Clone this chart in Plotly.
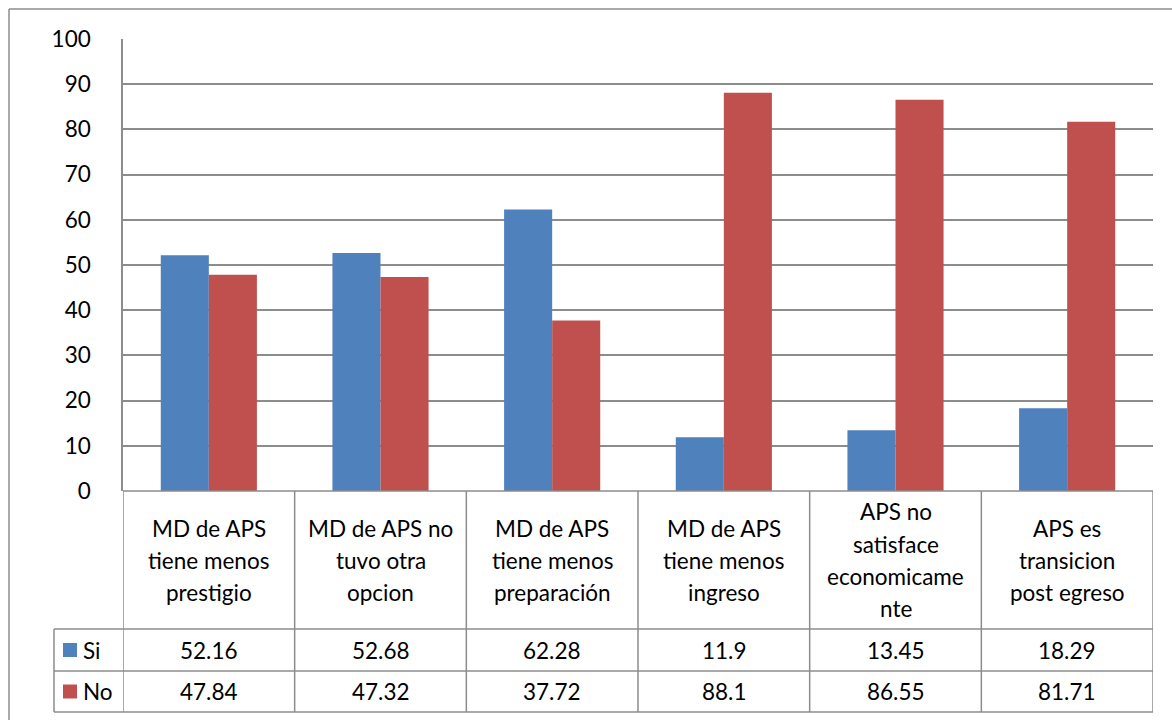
import plotly.graph_objects as go

# Chart data
categories = [
    "MD de APS<br>tiene menos<br>prestigio",
    "MD de APS no<br>tuvo otra<br>opcion",
    "MD de APS<br>tiene menos<br>preparación",
    "MD de APS<br>tiene menos<br>ingreso",
    "APS no<br>satisface<br>economicame<br>nte",
    "APS es<br>transicion<br>post egreso",
]
series_names = ["Si", "No"]
si_values = [52.16, 52.68, 62.28, 11.9, 13.45, 18.29]
no_values = [47.84, 47.32, 37.72, 88.1, 86.55, 81.71]
series_colors = ["#4F81BD", "#C0504D"]
y_ticks = [0, 10, 20, 30, 40, 50, 60, 70, 80, 90, 100]

FONT = "Lato"
FS = 22.5
W, H = 1172, 720
ML, MR, MT, MB = 123, 19, 39, 229
PH = H - MT - MB
PW = W - ML - MR


def py(pix):
    """Pixel row -> paper y."""
    return (H - MB - pix) / PH


def px(pix):
    """Pixel column -> paper x."""
    return (pix - ML) / PW


x_idx = list(range(len(categories)))
fig = go.Figure()
for name, vals, col in zip(series_names, [si_values, no_values], series_colors):
    fig.add_trace(go.Bar(x=x_idx, y=vals, name=name, marker_color=col,
                         marker_line_width=0, showlegend=False))

LINE = "#8c8c8c"
shapes = []
annotations = []

# Outer chart border (left and top edges visible)
shapes.append(dict(type="line", xref="paper", yref="paper",
                   x0=px(9), x1=px(W + 5), y0=py(9), y1=py(9),
                   line=dict(color=LINE, width=1.5)))
shapes.append(dict(type="line", xref="paper", yref="paper",
                   x0=px(9), x1=px(9), y0=py(9), y1=py(H + 5),
                   line=dict(color=LINE, width=1.5)))

# Data table grid
header_bottom, si_bottom, no_bottom = 629, 671, 712
key_left = 54
n = len(categories)
for yy, x_left in [(H - MB, 0), (header_bottom, None), (si_bottom, None), (no_bottom, None)]:
    shapes.append(dict(type="line", xref="paper", yref="paper",
                       x0=px(key_left) if x_left is None else 0, x1=1,
                       y0=py(yy), y1=py(yy),
                       line=dict(color=LINE, width=1.5)))
for i in range(n + 1):
    shapes.append(dict(type="line", xref="x", yref="paper",
                       x0=i - 0.5, x1=i - 0.5, y0=py(H - MB), y1=py(no_bottom),
                       line=dict(color=LINE, width=1.5)))
shapes.append(dict(type="line", xref="paper", yref="paper",
                   x0=px(key_left), x1=px(key_left), y0=py(header_bottom), y1=py(no_bottom),
                   line=dict(color=LINE, width=1.5)))

# Category header text, one annotation per line
header_mid = (H - MB + header_bottom) / 2
line_step = 32
for i, label in enumerate(categories):
    lines = label.split("<br>")
    for k, ln in enumerate(lines):
        yy = header_mid + (k - (len(lines) - 1) / 2) * line_step
        annotations.append(dict(x=i, y=py(yy), xref="x", yref="paper", text=ln,
                                showarrow=False, xanchor="center", yanchor="middle",
                                font=dict(family=FONT, size=FS, color="black")))

# Value rows with legend keys
row_mids = [(header_bottom + si_bottom) / 2, (si_bottom + no_bottom) / 2]
for r, (name, vals, col) in enumerate(zip(series_names, [si_values, no_values], series_colors)):
    ym = row_mids[r]
    shapes.append(dict(type="rect", xref="paper", yref="paper",
                       x0=px(63), x1=px(77), y0=py(ym - 7), y1=py(ym + 7),
                       fillcolor=col, line=dict(width=0)))
    annotations.append(dict(x=px(81), y=py(ym), xref="paper", yref="paper", text=name,
                            showarrow=False, xanchor="left", yanchor="middle",
                            font=dict(family=FONT, size=FS, color="black")))
    for i, v in enumerate(vals):
        annotations.append(dict(x=i, y=py(ym), xref="x", yref="paper", text=f"{v:g}",
                                showarrow=False, xanchor="center", yanchor="middle",
                                font=dict(family=FONT, size=FS, color="black")))

fig.update_layout(
    width=W, height=H,
    margin=dict(l=ML, r=MR, t=MT, b=MB),
    paper_bgcolor="white", plot_bgcolor="white",
    barmode="group", bargap=0.44, bargroupgap=0,
    font=dict(family=FONT, size=FS, color="black"),
    xaxis=dict(range=[-0.5, n - 0.5], showticklabels=False, showgrid=False,
               zeroline=False, showline=False, ticks=""),
    yaxis=dict(range=[0, 100], tickvals=y_ticks, showgrid=True, gridcolor=LINE,
               gridwidth=1.5, zeroline=False, showline=True, linecolor=LINE,
               linewidth=1.5, ticks="", ticklabelstandoff=26,
               tickfont=dict(family=FONT, size=FS, color="black")),
    shapes=shapes,
    annotations=annotations,
)

fig.write_html("out.html")
